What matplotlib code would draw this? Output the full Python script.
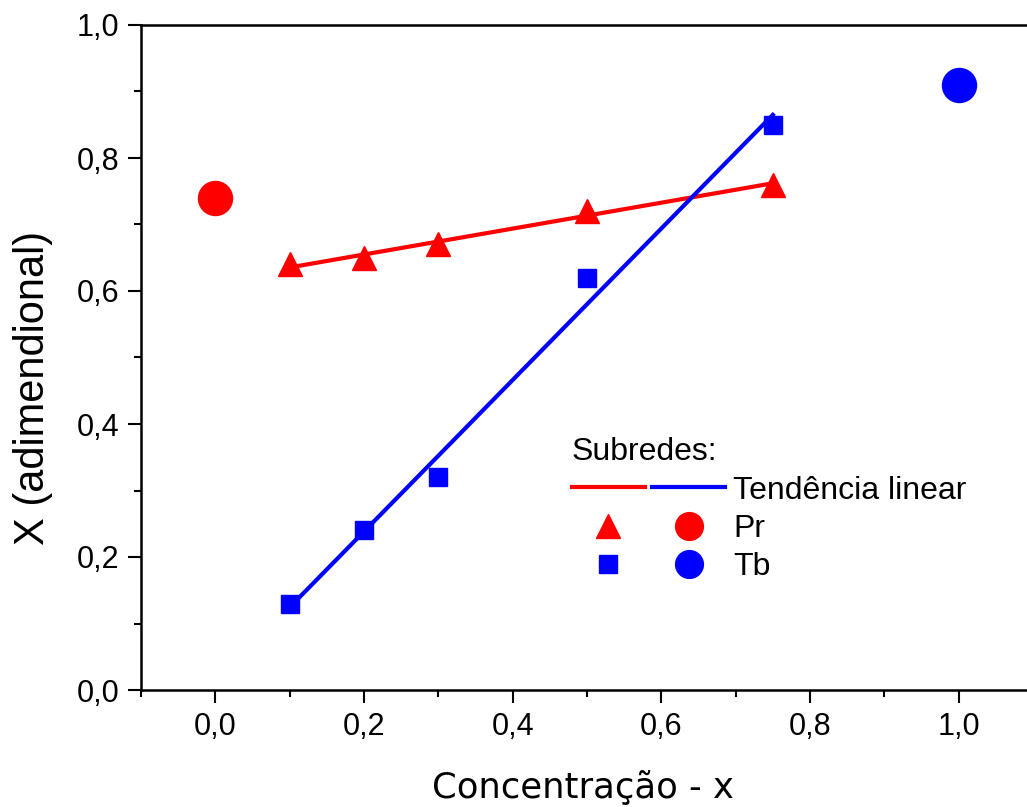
import numpy as np
import matplotlib
matplotlib.use('Agg')
import matplotlib.pyplot as plt
from matplotlib.lines import Line2D
from matplotlib.legend_handler import HandlerTuple

# dados
x_conc = [0.1, 0.2, 0.3, 0.5, 0.75]
pr_vals = [0.64, 0.65, 0.67, 0.72, 0.76]
tb_vals = [0.13, 0.24, 0.32, 0.62, 0.85]
pr_pure_x, pr_pure_y = [0.0], [0.74]
tb_pure_x, tb_pure_y = [1.0], [0.91]
xticks = [0.0, 0.2, 0.4, 0.6, 0.8, 1.0]
yticks = [0.0, 0.2, 0.4, 0.6, 0.8, 1.0]

plt.rcParams['font.family'] = ['Liberation Sans', 'DejaVu Sans']

fig = plt.figure(figsize=(10.27, 8.07), dpi=100)
ax = fig.add_axes([141 / 1027, 117 / 807, 892 / 1027, 665 / 807])

# tendencia linear (ajuste)
xs = np.array(x_conc)
p_pr = np.polyfit(xs, pr_vals, 1)
p_tb = np.polyfit(xs, tb_vals, 1)
xl = np.array([xs.min(), xs.max()])
ax.plot(xl, np.polyval(p_pr, xl), color='#ff0000', lw=3, zorder=2)
ax.plot(xl, np.polyval(p_tb, xl), color='#0000ff', lw=3, zorder=2)

ax.plot(x_conc, pr_vals, linestyle='none', marker='^', ms=17,
        color='#ff0000', zorder=3)
ax.plot(x_conc, tb_vals, linestyle='none', marker='s', ms=13.5,
        color='#0000ff', zorder=3)
ax.plot(pr_pure_x, pr_pure_y, linestyle='none', marker='o', ms=24.5,
        color='#ff0000', zorder=3)
ax.plot(tb_pure_x, tb_pure_y, linestyle='none', marker='o', ms=24.5,
        color='#0000ff', zorder=3)

ax.set_xlim(-0.1, 1.1)
ax.set_ylim(0.0, 1.0)
ax.set_xticks(xticks)
ax.set_yticks(yticks)
ax.set_xticks(np.arange(-0.1, 1.11, 0.1), minor=True)
ax.set_yticks(np.arange(0.1, 1.0, 0.2), minor=True)
ax.set_xticklabels([f'{v:.1f}'.replace('.', ',') for v in xticks])
ax.set_yticklabels([f'{v:.1f}'.replace('.', ',') for v in yticks])
ax.tick_params(which='major', direction='out', length=9.5, width=1.5,
               labelsize=22, pad=6, top=False, right=False)
ax.tick_params(which='minor', direction='out', length=5, width=1.5,
               top=False, right=False)
for s in ax.spines.values():
    s.set_linewidth(1.8)

ax.set_ylabel('X (adimendional)', fontsize=30)
ax.yaxis.label.set_va('center')
ax.yaxis.set_label_coords(-0.121, 0.454)
ax.set_xlabel('Concentração - x', fontsize=25.5, family='DejaVu Sans')
ax.xaxis.label.set_va('center')
ax.xaxis.set_label_coords(0.4955, -0.147)

h_lines = (Line2D([], [], color='#ff0000', lw=3),
           Line2D([], [], color='#0000ff', lw=3))
h_pr = (Line2D([], [], ls='none', marker='^', ms=17, color='#ff0000'),
        Line2D([], [], ls='none', marker='o', ms=20, color='#ff0000'))
h_tb = (Line2D([], [], ls='none', marker='s', ms=13, color='#0000ff'),
        Line2D([], [], ls='none', marker='o', ms=20, color='#0000ff'))
leg = ax.legend([h_lines, h_pr, h_tb], ['Tendência linear', 'Pr', 'Tb'],
                handler_map={tuple: HandlerTuple(ndivide=None, pad=0.25)},
                title='Subredes:', alignment='left', frameon=False,
                fontsize=23, title_fontsize=23, handlelength=4.8,
                handletextpad=0.25, labelspacing=0.26, borderpad=0,
                borderaxespad=0, loc='upper left',
                bbox_to_anchor=(0.483, 0.380))

fig.savefig('out.png', dpi=100)
